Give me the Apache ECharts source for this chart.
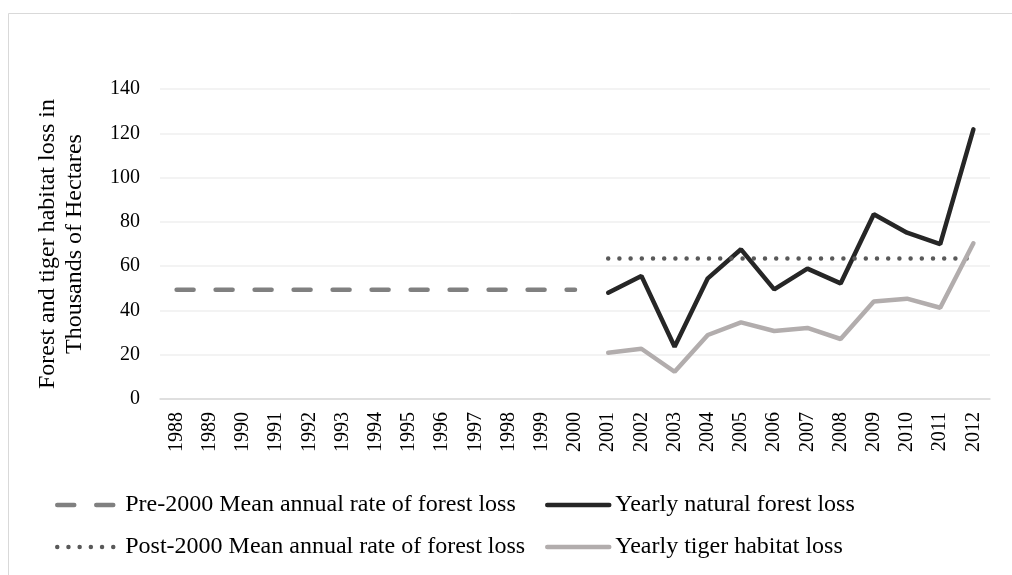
<!DOCTYPE html>
<html>
<head>
<meta charset="utf-8">
<title>Forest and tiger habitat loss</title>
<script src="https://cdn.jsdelivr.net/npm/echarts@6/dist/echarts.min.js"></script>
<style>
  html, body { margin: 0; padding: 0; background: #fff; }
  #chart { width: 1012px; height: 575px; }
</style>
</head>
<body>
<div id="chart"></div>
<script>
	'use strict';
	// values, thousands of hectares
	var years = ['1988', '1989', '1990', '1991', '1992', '1993', '1994', '1995', '1996', '1997', '1998', '1999', '2000',
		'2001', '2002', '2003', '2004', '2005', '2006', '2007', '2008', '2009', '2010', '2011', '2012'];
	var preMean = [49.3, 49.3, 49.3, 49.3, 49.3, 49.3, 49.3, 49.3, 49.3, 49.3, 49.3, 49.3, 49.3,
		null, null, null, null, null, null, null, null, null, null, null, null];
	var postMean = [null, null, null, null, null, null, null, null, null, null, null, null, null,
		63.4, 63.4, 63.4, 63.4, 63.4, 63.4, 63.4, 63.4, 63.4, 63.4, 63.4, 63.4];
	var naturalLoss = [null, null, null, null, null, null, null, null, null, null, null, null, null,
		48.0, 55.6, 23.6, 54.5, 67.6, 49.5, 58.9, 52.2, 83.4, 75.1, 69.9, 121.8];
	var tigerLoss = [null, null, null, null, null, null, null, null, null, null, null, null, null,
		20.9, 22.7, 12.3, 28.9, 34.6, 30.7, 32.1, 27.1, 44.0, 45.3, 41.2, 70.3];
	var yTicks = { min: 0, max: 140, step: 20 };

	var names = {
		pre: 'Pre-2000 Mean annual rate of forest loss',
		post: 'Post-2000 Mean annual rate of forest loss',
		natural: 'Yearly natural forest loss',
		tiger: 'Yearly tiger habitat loss'
	};
	var font = "'Liberation Serif', 'Times New Roman', serif";

	var styles = {
		pre: { color: '#808080', width: 4.5, type: [17, 22], cap: 'round' },
		natural: { color: '#262626', width: 4.5, type: 'solid', cap: 'round' },
		post: { color: '#595959', width: 4.5, type: [0, 11.2], cap: 'round' },
		tiger: { color: '#b2adad', width: 4.5, type: 'solid', cap: 'round' }
	};

	function legendAt(key, left, top, pad) {
		return {
			data: [names[key]],
			left: left,
			top: top,
			padding: 0,
			itemWidth: 62,
			itemHeight: 14,
			selectedMode: false,
			itemStyle: { opacity: 0 },
			lineStyle: styles[key],
			textStyle: { fontFamily: font, fontSize: 24, color: '#000', padding: [0, 0, 0, pad] }
		};
	}

	function lineSeries(key, data) {
		return {
			name: names[key],
			type: 'line',
			data: data,
			symbol: 'none',
			color: styles[key].color,
			lineStyle: styles[key]
		};
	}

	var chart = echarts.init(document.getElementById('chart'));
	chart.setOption({
		animation: false,
		backgroundColor: '#fff',
		graphic: [{
			type: 'rect',
			silent: true,
			shape: { x: 8.5, y: 13.5, width: 1100, height: 700 },
			style: { fill: 'none', stroke: '#d9d9d9', lineWidth: 1 }
		}],
		grid: { left: 160, right: 22, top: 89, bottom: 176 },
		legend: [
			legendAt('pre', 55, 493, 1),
			legendAt('natural', 545, 493, 1),
			legendAt('post', 55, 535, 1),
			legendAt('tiger', 545, 535, 1)
		],
		xAxis: {
			type: 'category',
			data: years,
			boundaryGap: true,
			axisLine: { lineStyle: { color: '#d9d9d9', width: 1.5 } },
			axisTick: { show: false },
			axisLabel: { rotate: 90, margin: 13, fontFamily: font, fontSize: 20, color: '#000', interval: 0 }
		},
		yAxis: {
			type: 'value',
			min: yTicks.min,
			max: yTicks.max,
			interval: yTicks.step,
			name: 'Forest and tiger habitat loss in\nThousands of Hectares',
			nameLocation: 'middle',
			nameRotate: 90,
			nameGap: 72,
			nameTextStyle: { fontFamily: font, fontSize: 24, color: '#000', lineHeight: 27 },
			axisLine: { show: false },
			axisTick: { show: false },
			splitLine: { lineStyle: { color: '#efefef', width: 1.5 } },
			axisLabel: { margin: 20, fontFamily: font, fontSize: 20, color: '#000' }
		},
		series: [
			lineSeries('pre', preMean),
			lineSeries('natural', naturalLoss),
			lineSeries('post', postMean),
			lineSeries('tiger', tigerLoss)
		]
	});
</script>
</body>
</html>
